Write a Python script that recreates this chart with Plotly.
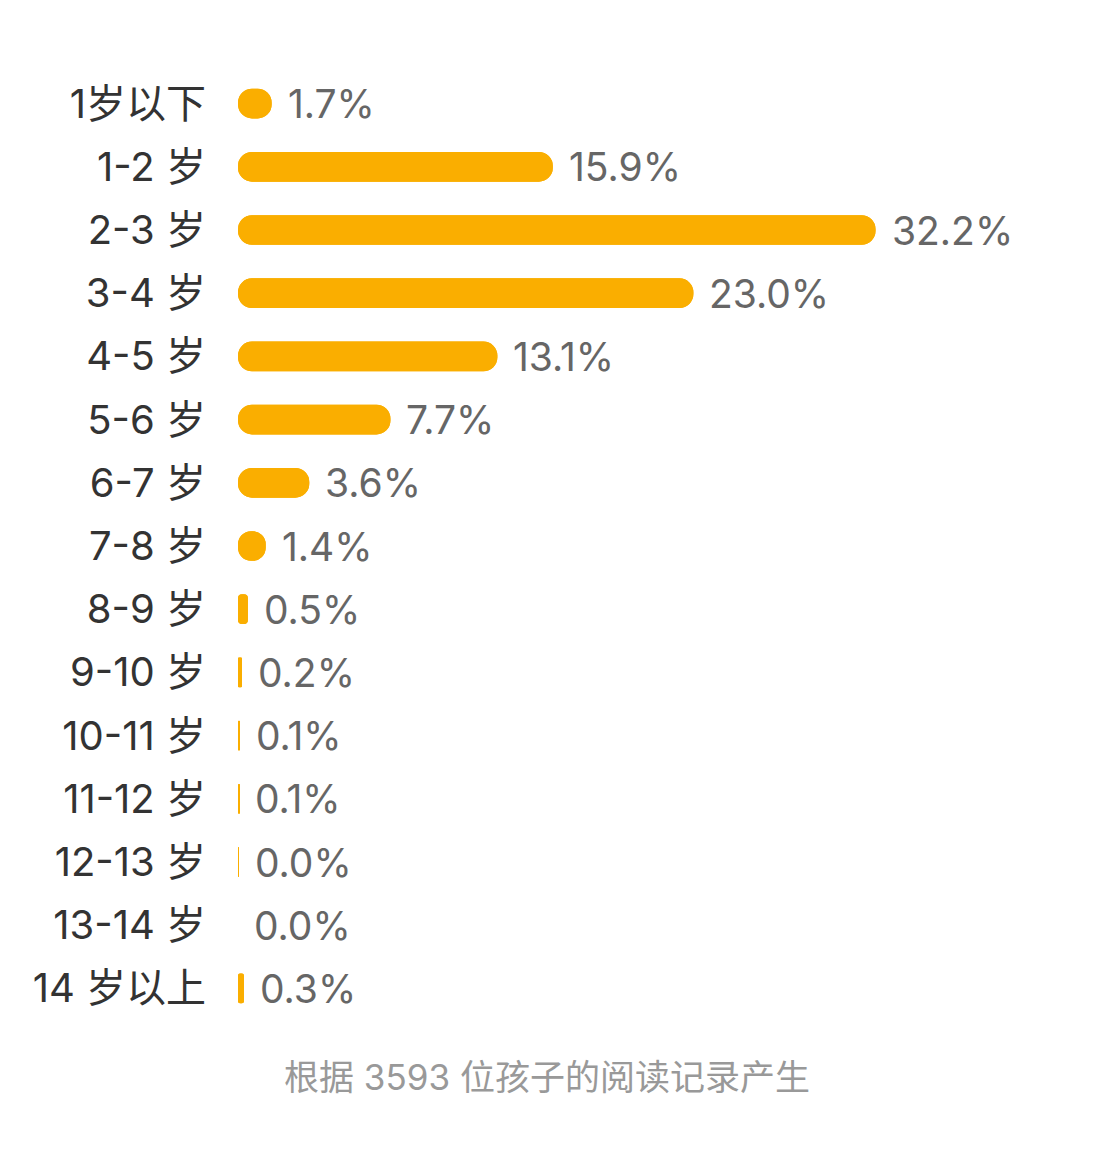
import plotly.graph_objects as go

# age groups and share of readers (%)
categories = ["1岁以下", "1-2 岁", "2-3 岁", "3-4 岁", "4-5 岁", "5-6 岁", "6-7 岁", "7-8 岁",
              "8-9 岁", "9-10 岁", "10-11 岁", "11-12 岁", "12-13 岁", "13-14 岁", "14 岁以上"]
values = [1.7, 15.9, 32.2, 23.0, 13.1, 7.7, 3.6, 1.4, 0.5, 0.2, 0.1, 0.07, 0.04, 0.0, 0.3]
value_labels = ["1.7%", "15.9%", "32.2%", "23.0%", "13.1%", "7.7%", "3.6%", "1.4%",
                "0.5%", "0.2%", "0.1%", "0.1%", "0.0%", "0.0%", "0.3%"]
footer = "根据 3593 位孩子的阅读记录产生"

BAR_COLOR = "#FAAE00"
FONT = "Inter, Noto Sans CJK SC, sans-serif"

fig = go.Figure()
# same bar drawn twice: once growing right from 0, once growing left from the value,
# so cornerradius rounds both ends and the overlap gives a pill
fig.add_trace(go.Bar(
    y=categories, x=values, base=0, orientation="h",
    marker=dict(color=BAR_COLOR, cornerradius=15, line=dict(width=0)),
    width=0.47, hoverinfo="skip",
))
fig.add_trace(go.Bar(
    y=categories, x=[-v for v in values], base=values, orientation="h",
    marker=dict(color=BAR_COLOR, cornerradius=15, line=dict(width=0)),
    width=0.47, hoverinfo="skip",
))

annotations = [
    dict(x=v, y=c, text=t, xref="x", yref="y", xanchor="left", yanchor="middle",
         xshift=14, showarrow=False, font=dict(size=39, color="#666666", family=FONT))
    for c, v, t in zip(categories, values, value_labels)
]
# footer sits under the plot area
annotations.append(dict(
    x=0.39, y=0, xref="paper", yref="paper", yanchor="middle", yshift=-57,
    text=footer, showarrow=False,
    font=dict(size=35, color="#999999", family=FONT),
))

fig.update_layout(
    barmode="overlay",
    width=1102, height=1160,
    margin=dict(l=230, r=80, t=64, b=148),
    paper_bgcolor="white", plot_bgcolor="white",
    showlegend=False,
    annotations=annotations,
    font=dict(family=FONT),
)

fig.update_xaxes(range=[0, 40], visible=False, fixedrange=True)
fig.update_yaxes(
    autorange="reversed", showgrid=False, zeroline=False, showline=False,
    ticks="", ticklabelstandoff=31,
    tickfont=dict(size=40, color="#333333", family=FONT),
)

fig.write_html("out.html")
